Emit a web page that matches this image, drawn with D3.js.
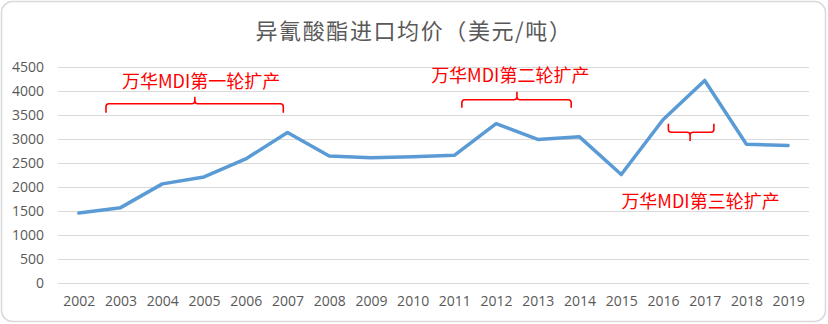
<!DOCTYPE html>
<html>
<head>
<meta charset="utf-8">
<script src="https://cdn.jsdelivr.net/npm/d3@7"></script>
<style>
  body { margin: 0; background: #fff; }
  svg text { font-family: "Open Sans", "Noto Sans CJK SC", sans-serif; }
</style>
</head>
<body>
<div id="chart"></div>
<script>
// data
const years = ['2002', '2003', '2004', '2005', '2006', '2007', '2008', '2009', '2010',
    '2011', '2012', '2013', '2014', '2015', '2016', '2017', '2018', '2019'];
const prices = [1460, 1570, 2065, 2210, 2585, 3135, 2645, 2610, 2630,
    2660, 3320, 2990, 3045, 2260, 3400, 4220, 2890, 2865];
const yTicks = [0, 500, 1000, 1500, 2000, 2500, 3000, 3500, 4000, 4500];
const title = '异氰酸酯进口均价（美元/吨）';

// annotations: brace span in category index units, levels in data units
const notes = [
    { text: '万华MDI第一轮扩产', tx: 2.93, ty: 4200, x0: 0.65, x1: 4.9, tip: 2.78, line: 3734, end: 3546, peak: 3880 },
    { text: '万华MDI第二轮扩产', tx: 10.34, ty: 4320, x0: 9.18, x1: 11.8, tip: 10.5, line: 3818, end: 3650, peak: 3985 },
    { text: '万华MDI第三轮扩产', tx: 14.9, ty: 1700, x0: 14.13, x1: 15.22, tip: 14.65, line: 3140, end: 3316, peak: 2960 },
];

const W = 828;
const H = 324;
const margin = { top: 67, right: 19, bottom: 41, left: 58 };
const width = W - margin.left - margin.right;
const height = H - margin.top - margin.bottom;
const textGray = '#595959';

const svg = d3.select('#chart').append('svg')
    .attr('width', W)
    .attr('height', H);

// chart frame
svg.append('rect')
    .attr('x', 1.5).attr('y', 1.5)
    .attr('width', W - 4).attr('height', H - 4)
    .attr('rx', 11)
    .attr('fill', '#fff')
    .attr('stroke', '#d9d9d9')
    .attr('stroke-width', 1.5);

svg.append('text')
    .attr('x', W / 2)
    .attr('y', 39)
    .attr('text-anchor', 'middle')
    .attr('fill', textGray)
    .style('font-family', '"Noto Sans CJK SC", sans-serif')
    .style('font-size', '22px')
    .style('letter-spacing', '1.6px')
    .text(title);

const g = svg.append('g')
    .attr('transform', `translate(${margin.left},${margin.top})`);

const x = d3.scalePoint()
    .domain(years)
    .range([0, width])
    .padding(0.5);
const step = x.step();
const xi = (i) => x(years[0]) + i * step;

const y = d3.scaleLinear()
    .domain([0, 4500])
    .range([height, 0]);

// horizontal gridlines + y labels
const yAxis = d3.axisLeft(y)
    .tickValues(yTicks)
    .tickFormat(d3.format('d'))
    .tickSize(-width)
    .tickPadding(14);
g.append('g')
    .attr('class', 'axis y')
    .call(yAxis)
    .call((s) => s.select('.domain').remove())
    .call((s) => s.selectAll('line').attr('stroke', '#d9d9d9').attr('stroke-width', 1.2))
    .call((s) => s.selectAll('text')
        .attr('fill', textGray)
        .style('font-size', '14px'));

const xAxis = d3.axisBottom(x)
    .tickSize(0)
    .tickPadding(13);
g.append('g')
    .attr('class', 'axis x')
    .attr('transform', `translate(0,${height})`)
    .call(xAxis)
    .call((s) => s.select('.domain').remove())
    .call((s) => s.selectAll('text')
        .attr('fill', textGray)
        .style('font-size', '14px'));

const line = d3.line()
    .x((d, i) => x(years[i]))
    .y((d) => y(d));

g.append('path')
    .datum(prices)
    .attr('fill', 'none')
    .attr('stroke', '#5B9BD5')
    .attr('stroke-width', 3.5)
    .attr('stroke-linejoin', 'round')
    .attr('stroke-linecap', 'round')
    .attr('d', line);

// red braces and labels
const bracePath = (n) => {
    const a = xi(n.x0);
    const b = xi(n.x1);
    const t = xi(n.tip);
    const yl = y(n.line);
    const ye = y(n.end);
    const yp = y(n.peak);
    const r = 3 * Math.sign(ye - yl);
    const rp = 3 * Math.sign(yl - yp);
    return `M${a},${ye} L${a},${yl + r} Q${a},${yl} ${a + 3},${yl}`
        + ` L${t - 3},${yl} Q${t},${yl} ${t},${yl - rp} L${t},${yp}`
        + ` M${t},${yl - rp} Q${t},${yl} ${t + 3},${yl}`
        + ` L${b - 3},${yl} Q${b},${yl} ${b},${yl + r} L${b},${ye}`;
};

const ann = g.append('g').attr('class', 'notes');
ann.selectAll('path')
    .data(notes)
    .join('path')
    .attr('d', bracePath)
    .attr('fill', 'none')
    .attr('stroke', '#ff0000')
    .attr('stroke-width', 1.6);

ann.selectAll('text')
    .data(notes)
    .join('text')
    .attr('x', (d) => xi(d.tx))
    .attr('y', (d) => y(d.ty))
    .attr('dy', '0.35em')
    .attr('text-anchor', 'middle')
    .attr('fill', '#ff0000')
    .style('font-family', '"Noto Sans CJK SC", sans-serif')
    .style('font-size', '18px')
    .text((d) => d.text);
</script>
</body>
</html>
